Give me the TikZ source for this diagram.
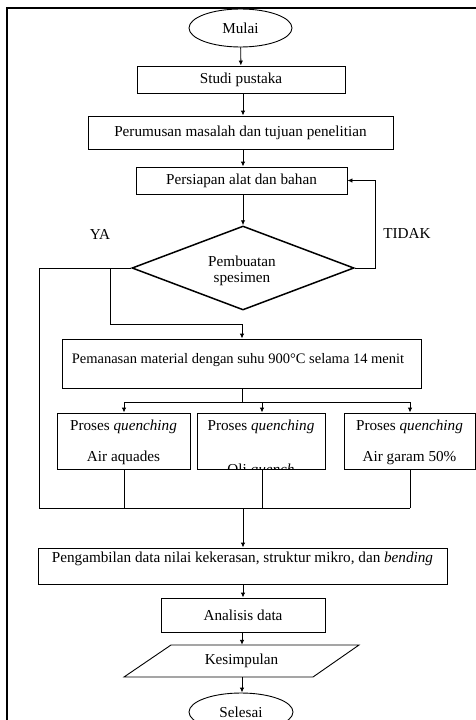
\documentclass[tikz,border=0pt]{standalone}
\usepackage{fontspec}
\setmainfont{Liberation Serif}
\usetikzlibrary{shapes.geometric,arrows.meta}
\begin{document}
\begin{tikzpicture}[x=1pt,y=-1pt,
  font=\fontsize{15.2}{17}\selectfont,
  box/.style={draw,line width=0.9pt,rectangle,inner sep=0pt},
  oval/.style={draw,line width=0.9pt,ellipse,inner sep=0pt},
  txt/.style={inner sep=0pt},
  line/.style={line width=0.9pt},
  arr/.style={line width=0.9pt,-{Latex[length=5pt,width=4.5pt]}}]
\clip (0,0) rectangle (476,720);
\useasboundingbox (0,0) rectangle (476,720);
% outer frame
\draw[line width=1.3pt] (7,8) rectangle (485,740);

\node[oval,minimum width=103pt,minimum height=38pt] (mulai) at (240.5,28) {Mulai};
\node[box,minimum width=208pt,minimum height=27pt] (studi) at (241,79.5) {Studi pustaka};
\node[box,minimum width=305pt,minimum height=33pt] (rumus) at (240.5,132.5) {Perumusan masalah dan tujuan penelitian};
\node[box,minimum width=211pt,minimum height=27pt] (siap) at (241.5,180.5) {Persiapan alat dan bahan};
\node[draw,line width=1.5pt,diamond,aspect=2.64,minimum width=222pt,minimum height=84pt,inner sep=0pt] (dec) at (243,268) {};
\node[txt] (dect1) at (242,261) {Pembuatan};
\node[txt] (dect2) at (242,279) {spesimen};
\node[txt] (ya) at (100,234) {YA};
\node[txt] (tidak) at (407,233) {TIDAK};

\node[box,minimum width=359pt,minimum height=49pt] (pem) at (241.5,363.5) {};
\node[txt,font=\fontsize{14.5}{17}\selectfont] (pemt) at (238,360) {Pemanasan material dengan suhu 900°C selama 14 menit};

\node[box,minimum width=133pt,minimum height=56pt] (q1) at (123.5,441) {};
\node[box,minimum width=128pt,minimum height=56pt] (q2) at (261,441) {};
\node[box,minimum width=131pt,minimum height=56pt] (q3) at (409.5,441) {};
\node[txt] (q1a) at (123.5,427) {Proses \textit{quenching}};
\node[txt] (q1b) at (123.5,458) {Air aquades};
\node[txt] (q2a) at (261,427) {Proses \textit{quenching}};
\begin{scope}
\clip (197,413) rectangle (325,468.5);
\node[txt] (q2b) at (261,471) {Oli \textit{quench}};
\end{scope}
\node[txt] (q3a) at (409.5,427) {Proses \textit{quenching}};
\node[txt] (q3b) at (409.5,458) {Air garam 50\%};

\node[box,minimum width=409pt,minimum height=36pt] (ambil) at (242.5,566) {};
\node[txt] (ambilt) at (242.5,559) {Pengambilan data nilai kekerasan, struktur mikro, dan \textit{bending}};
\node[box,minimum width=164pt,minimum height=34pt] (anal) at (243,615) {Analisis data};
\draw[line] (171,645) -- (359,645) -- (313,677) -- (124,677) -- cycle;
\node[txt,minimum width=10pt,minimum height=32pt] (kes) at (241.5,661) {Kesimpulan};
\node[oval,minimum width=104pt,minimum height=38pt] (sel) at (241,712) {Selesai};

% connectors
\draw[arr] (mulai) -- (studi);
\draw[arr] (studi.south -| 243,0) -- (rumus.north -| 243,0);
\draw[arr] (rumus.south -| 243,0) -- (siap.north -| 243,0);
\draw[arr] (siap.south -| 243,0) -- (dec.north);
\coordinate (tr) at (375,268);
\coordinate (tt) at (375,180.5);
\draw[arr] (dec.east) -- (tr) -- (tt) -- (siap.east);
\coordinate (lw) at (39,268);
\coordinate (lb) at (39,508);
\coordinate (rb) at (410,508);
\draw[line] (dec.west) -- (lw) -- (lb) -- (rb);
\coordinate (ya1) at (110,268);
\coordinate (ya2) at (110,324);
\coordinate (ya3) at (242,324);
\draw[arr] (ya1) -- (ya2) -- (ya3) -- (ya3 |- pem.north);
\coordinate (sp) at (242,402);
\coordinate (sl) at (124,402);
\coordinate (sr) at (410,402);
\draw[line] (pem.south -| sp) -- (sp);
\draw[line] (sl) -- (sr);
\draw[arr] (sl) -- (sl |- q1.north);
\draw[arr] (262,402) -- (q2.north -| 262,0);
\draw[arr] (sr) -- (sr |- q3.north);
\draw[line] (q1.south -| 124,0) -- (124,508);
\draw[line] (q2.south -| 262,0) -- (262,508);
\draw[line] (q3.south -| 410,0) -- (410,508);
\coordinate (mb) at (243,508);
\draw[arr] (mb) -- (mb |- ambil.north);
\draw[arr] (ambil.south -| 243,0) -- (anal.north -| 243,0);
\draw[arr] (anal.south -| 242,0) -- (kes.north -| 242,0);
\draw[arr] (kes.south -| 242,0) -- (sel.north -| 242,0);
\end{tikzpicture}
\end{document}
